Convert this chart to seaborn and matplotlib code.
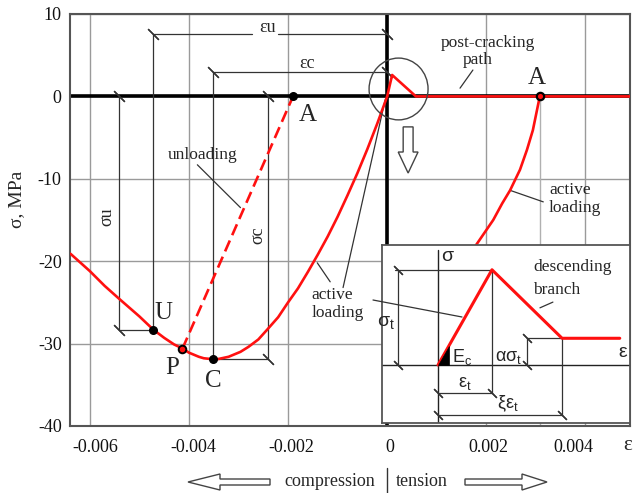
import numpy as np
import pandas as pd
import matplotlib
matplotlib.use("Agg")
import matplotlib.pyplot as plt
import seaborn as sns
from matplotlib.patches import Ellipse, Polygon
from matplotlib.lines import Line2D
from matplotlib.transforms import ScaledTranslation

# ---------------- data ----------------
comp_strain = [-0.00639, -0.0060, -0.0057, -0.00542, -0.0050, -0.00472, -0.0045, -0.0043,
               -0.00413, -0.0040, -0.0038, -0.0037, -0.00351, -0.0034, -0.0032, -0.0031,
               -0.00296, -0.0028, -0.0026, -0.00242, -0.0022, -0.0020, -0.0018,
               -0.0016, -0.0014, -0.0012, -0.0010, -0.0008, -0.0006, -0.0004, -0.0002, 0.0]
comp_stress = [-19.1, -21.2, -23.0, -24.5, -26.7, -28.3, -29.3, -30.1,
               -30.6, -31.1, -31.6, -31.78, -31.9, -31.86, -31.6, -31.35,
               -31.0, -30.4, -29.5, -28.3, -26.8, -25.0, -23.3,
               -21.3, -19.2, -17.0, -14.6, -12.0, -9.3, -6.4, -3.3, 0.0]

reload_strain = [0.00308, 0.00294, 0.00282, 0.00268, 0.00248, 0.00232, 0.00214, 0.00173, 0.0013, 0.0008, 0.0003]
reload_stress = [0.0, -4.1, -6.5, -8.9, -11.4, -13.0, -15.0, -18.6, -22.0, -25.5, -28.0]

crack_strain = [0.0, 0.0001, 0.00058, 0.0049]
crack_stress = [0.0, 2.6, 0.0, 0.0]

unload_strain = [-0.00413, -0.0019]
unload_stress = [-30.6, 0.0]

pt_names = ["U", "P", "C", "A", "A"]
pt_strain = [-0.00472, -0.00413, -0.00351, -0.0019, 0.00308]
pt_stress = [-28.3, -30.6, -31.9, 0.0, 0.0]

xtick_vals = [-0.006, -0.004, -0.002, 0.0, 0.002, 0.004]
xtick_labels = ["-0.006", "-0.004", "-0.002", "0", "0.002", "0.004"]
ytick_vals = [10, 0, -10, -20, -30, -40]
ytick_labels = ["10", "0", "-10", "-20", "-30", "-40"]

# inset (normalised: eps/eps_t, sigma/sigma_t)
inset_eps = [0.0, 1.0, 2.3, 3.37]
inset_sig = [0.0, 1.0, 0.28, 0.28]

# ---------------- style ----------------
sns.set_style("white")
plt.rcParams["font.family"] = ["Liberation Serif", "DejaVu Serif"]
plt.rcParams["axes.unicode_minus"] = False
plt.rcParams["mathtext.fontset"] = "dejavusans"

W, H = 634, 493
fig = plt.figure(figsize=(W / 100, H / 100), dpi=100)

def fpx(x, y):
    return (x / W, 1 - y / H)

ax = fig.add_axes([70 / W, 1 - 426 / H, 560 / W, 412 / H])
ax.set_xlim(-0.0064, 0.0049)
ax.set_ylim(-40, 10)

RED = "#ff1010"
DIM = "#333333"

ax.set_xticks(xtick_vals)
ax.set_xticklabels(xtick_labels)
ax.set_yticks(ytick_vals)
ax.set_yticklabels(ytick_labels)
ax.tick_params(axis="both", length=0, labelsize=13, colors="#111111")
ax.tick_params(axis="x", pad=9)
ax.tick_params(axis="y", pad=6)
offs = [5, 4, 3, 3, 2, -12]
for lab, o in zip(ax.get_xticklabels(), offs):
    lab.set_transform(lab.get_transform() + ScaledTranslation(o / 100, 0, fig.dpi_scale_trans))
ax.grid(True, color="#9a9a9a", lw=1.0)
ax.set_axisbelow(True)
for s in ax.spines.values():
    s.set_color("#555555")
    s.set_linewidth(1.5)

fig.text(*fpx(17, 199), "σ, MPa", fontsize=14, rotation=90, ha="center", va="center")
fig.text(*fpx(628, 445), "ε", fontsize=15, ha="center", va="center")

# black coordinate axes
ax.axhline(0, color="black", lw=2.6, zorder=2)
ax.axvline(0, color="black", lw=2.6, zorder=2)
ax.plot([0.00308, 0.00308], [0, -40], color="#b0b0b0", lw=1.0, zorder=1)

# dimension lines
def dline(xs, ys):
    ax.plot(xs, ys, color=DIM, lw=0.9, zorder=2)

dline([-0.00472, -0.00272], [7.6, 7.6]); dline([-0.0022, 0.0], [7.6, 7.6])
dline([-0.00472, -0.00472], [7.6, -28.3])
dline([-0.00351, 0.0], [3.0, 3.0])
dline([-0.00351, -0.00351], [3.0, -31.9])
dline([-0.00542, -0.00542], [0.0, -28.3]); dline([-0.00542, -0.00472], [-28.3, -28.3])
dline([-0.0024, -0.0024], [0.0, -31.9]); dline([-0.00351, -0.0024], [-31.9, -31.9])
tx = [-0.00472, 0.0, -0.00351, 0.0, -0.00542, -0.00542, -0.0024, -0.0024]
ty = [7.6, 7.6, 3.0, 3.0, 0.0, -28.3, 0.0, -31.9]
ax.plot(tx, ty, ls="none", marker=(2, 2, 45), ms=11, mew=0.9, mec=DIM, zorder=3)

ax.text(-0.00242, 8.4, "εu", fontsize=13, ha="center", va="center")
ax.text(-0.00161, 4.05, "εc", fontsize=13, ha="center", va="center")
ax.text(-0.00565, -14.6, "σu", fontsize=13, ha="center", va="center", rotation=90)
ax.text(-0.0026, -16.8, "σc", fontsize=13, ha="center", va="center", rotation=90)

# curves
sns.lineplot(x=comp_strain, y=comp_stress, ax=ax, color=RED, lw=1.9, sort=False, estimator=None, zorder=4)
sns.lineplot(x=reload_strain, y=reload_stress, ax=ax, color=RED, lw=1.9, sort=False, estimator=None, zorder=4)
sns.lineplot(x=crack_strain, y=crack_stress, ax=ax, color=RED, lw=1.9, sort=False, estimator=None, zorder=4)
ul, = ax.plot(unload_strain, unload_stress, color=RED, lw=1.9, zorder=4)
ul.set_dashes((4.5, 2.2))

# points
ax.scatter(pt_strain[0:1] + pt_strain[2:4], pt_stress[0:1] + pt_stress[2:4], s=30, color="black", zorder=6)
ax.scatter([pt_strain[1]], [pt_stress[1]], s=30, color=RED, edgecolor="black", lw=1.4, zorder=6)
ax.scatter([pt_strain[4]], [pt_stress[4]], s=28, color=RED, edgecolor="black", lw=1.6, zorder=6)
lab_pos = [(-0.00452, -26.3), (-0.00434, -33.0), (-0.00351, -34.5), (-0.00161, -2.3), (0.00302, 2.2)]
for n, (x, y) in zip(pt_names, lab_pos):
    ax.text(x, y, n, fontsize=18, ha="center", va="center", zorder=6)

# circle and hollow down arrow
ax.add_patch(Ellipse((0.00023, 0.9), 0.00119, 7.5, fill=False, ec="#444444", lw=1.0, zorder=5))
cx = 0.000423
ax.add_patch(Polygon([(cx - 0.0001, -3.7), (cx + 0.0001, -3.7), (cx + 0.0001, -6.75),
                      (cx + 0.0002, -6.75), (cx, -9.3), (cx - 0.0002, -6.75),
                      (cx - 0.0001, -6.75)], closed=True, fc="white", ec="#444444", lw=1.0, zorder=5))

# annotations and leaders
ax.text(-0.00373, -7.1, "unloading", fontsize=12.5, ha="center", va="center")
dline([-0.00383, -0.00296], [-8.3, -13.5])
ax.text(0.00204, 6.5, "post-cracking", fontsize=12.5, ha="center", va="center")
ax.text(0.00183, 4.4, "path", fontsize=12.5, ha="center", va="center")
dline([0.00173, 0.00147], [3.2, 1.0])
ax.text(0.00369, -11.4, "active", fontsize=12.5, ha="center", va="center")
ax.text(0.00379, -13.6, "loading", fontsize=12.5, ha="center", va="center")
dline([0.00248, 0.00315], [-11.4, -12.8])
ax.text(-0.00111, -24.1, "active", fontsize=12.5, ha="center", va="center")
ax.text(-0.00099, -26.3, "loading", fontsize=12.5, ha="center", va="center")
dline([-0.00115, -0.00141], [-22.5, -20.2])
dline([-0.00089, -0.00004], [-23.2, -0.4])

# ---------------- inset ----------------
axin = fig.add_axes([382 / W, 1 - 423 / H, 248 / W, 178 / H], zorder=2)
axin.set_facecolor("white")
axin.set_xlim(-1.04, 3.56)
axin.set_ylim(-0.61, 1.26)
axin.set_xticks([]); axin.set_yticks([])
for s in axin.spines.values():
    s.set_color("#555555"); s.set_linewidth(1.3)

def iline(xs, ys, lw=0.9, c=DIM):
    axin.plot(xs, ys, color=c, lw=lw, zorder=2)

iline([0, 0], [-0.61, 1.21], lw=1.0, c="#222222")
iline([-1.04, 3.56], [0, 0], lw=1.0, c="#222222")
iline([-0.8, 1.0], [1.0, 1.0])
iline([-0.74, -0.74], [0.0, 1.0])
iline([1.0, 1.0], [1.0, -0.295])
iline([2.3, 2.3], [0.28, -0.53])
iline([1.65, 2.3], [0.28, 0.28])
iline([1.65, 1.65], [0.0, 0.28])
iline([0.0, 1.0], [-0.295, -0.295])
iline([0.0, 2.3], [-0.53, -0.53])
itx = [-0.74, -0.74, 1.65, 1.65, 0.0, 1.0, 0.0, 2.3]
ity = [1.0, 0.0, 0.28, 0.0, -0.295, -0.295, -0.53, -0.53]
axin.plot(itx, ity, ls="none", marker=(2, 2, 45), ms=9, mew=0.9, mec=DIM, zorder=3)
sns.lineplot(x=inset_eps, y=inset_sig, ax=axin, color=RED, lw=2.2, sort=False, estimator=None, zorder=4)
axin.add_patch(Polygon([(0, 0), (0.2, 0), (0.2, 0.2)], closed=True, fc="black", ec="black", lw=0.5, zorder=5))
iline([1.89, 2.13], [0.6, 0.66])

SANS = ["Liberation Sans", "DejaVu Sans"]
axin.text(0.17, 1.14, "σ", fontsize=14, family=SANS, ha="center", va="center")
axin.text(3.43, 0.13, "ε", fontsize=14, family=SANS, ha="center", va="center")
axin.text(-0.96, 0.45, r"$\mathregular{\sigma_t}$", fontsize=14, family=SANS, ha="center", va="center")
axin.text(0.44, 0.08, r"$\mathregular{E_c}$", fontsize=13, family=SANS, ha="center", va="center")
axin.text(1.3, 0.08, r"$\mathregular{\alpha\sigma_t}$", fontsize=13, family=SANS, ha="center", va="center")
axin.text(0.5, -0.2, r"$\mathregular{\varepsilon_t}$", fontsize=13, family=SANS, ha="center", va="center")
axin.text(1.3, -0.41, r"$\mathregular{\xi\varepsilon_t}$", fontsize=13, family=SANS, ha="center", va="center")
axin.text(2.5, 1.03, "descending", fontsize=12.5, ha="center", va="center")
axin.text(2.2, 0.79, "branch", fontsize=12.5, ha="center", va="center")

# leader crossing into the inset
fig.add_artist(Line2D([373 / W, 462 / W], [1 - 300 / H, 1 - 317 / H], color=DIM, lw=0.9,
                      transform=fig.transFigure, zorder=5))

# ---------------- bottom compression | tension ----------------
left_arrow = [(188, 482), (220, 474), (220, 479), (270, 479), (270, 485), (220, 485), (220, 490)]
right_arrow = [(465, 479), (522, 479), (522, 474), (547, 482), (522, 490), (522, 485), (465, 485)]
for poly in (left_arrow, right_arrow):
    fig.add_artist(Polygon([fpx(x, y) for x, y in poly], closed=True, fc="white", ec="#444444",
                           lw=1.0, transform=fig.transFigure))
fig.text(*fpx(330, 481), "compression", fontsize=13, ha="center", va="center")
fig.text(*fpx(422, 481), "tension", fontsize=13, ha="center", va="center")
fig.add_artist(Line2D([387 / W, 387 / W], [1 - 468 / H, 1 - 493 / H], color="#333333", lw=1.0,
                      transform=fig.transFigure))

fig.savefig("out.png", dpi=100)
